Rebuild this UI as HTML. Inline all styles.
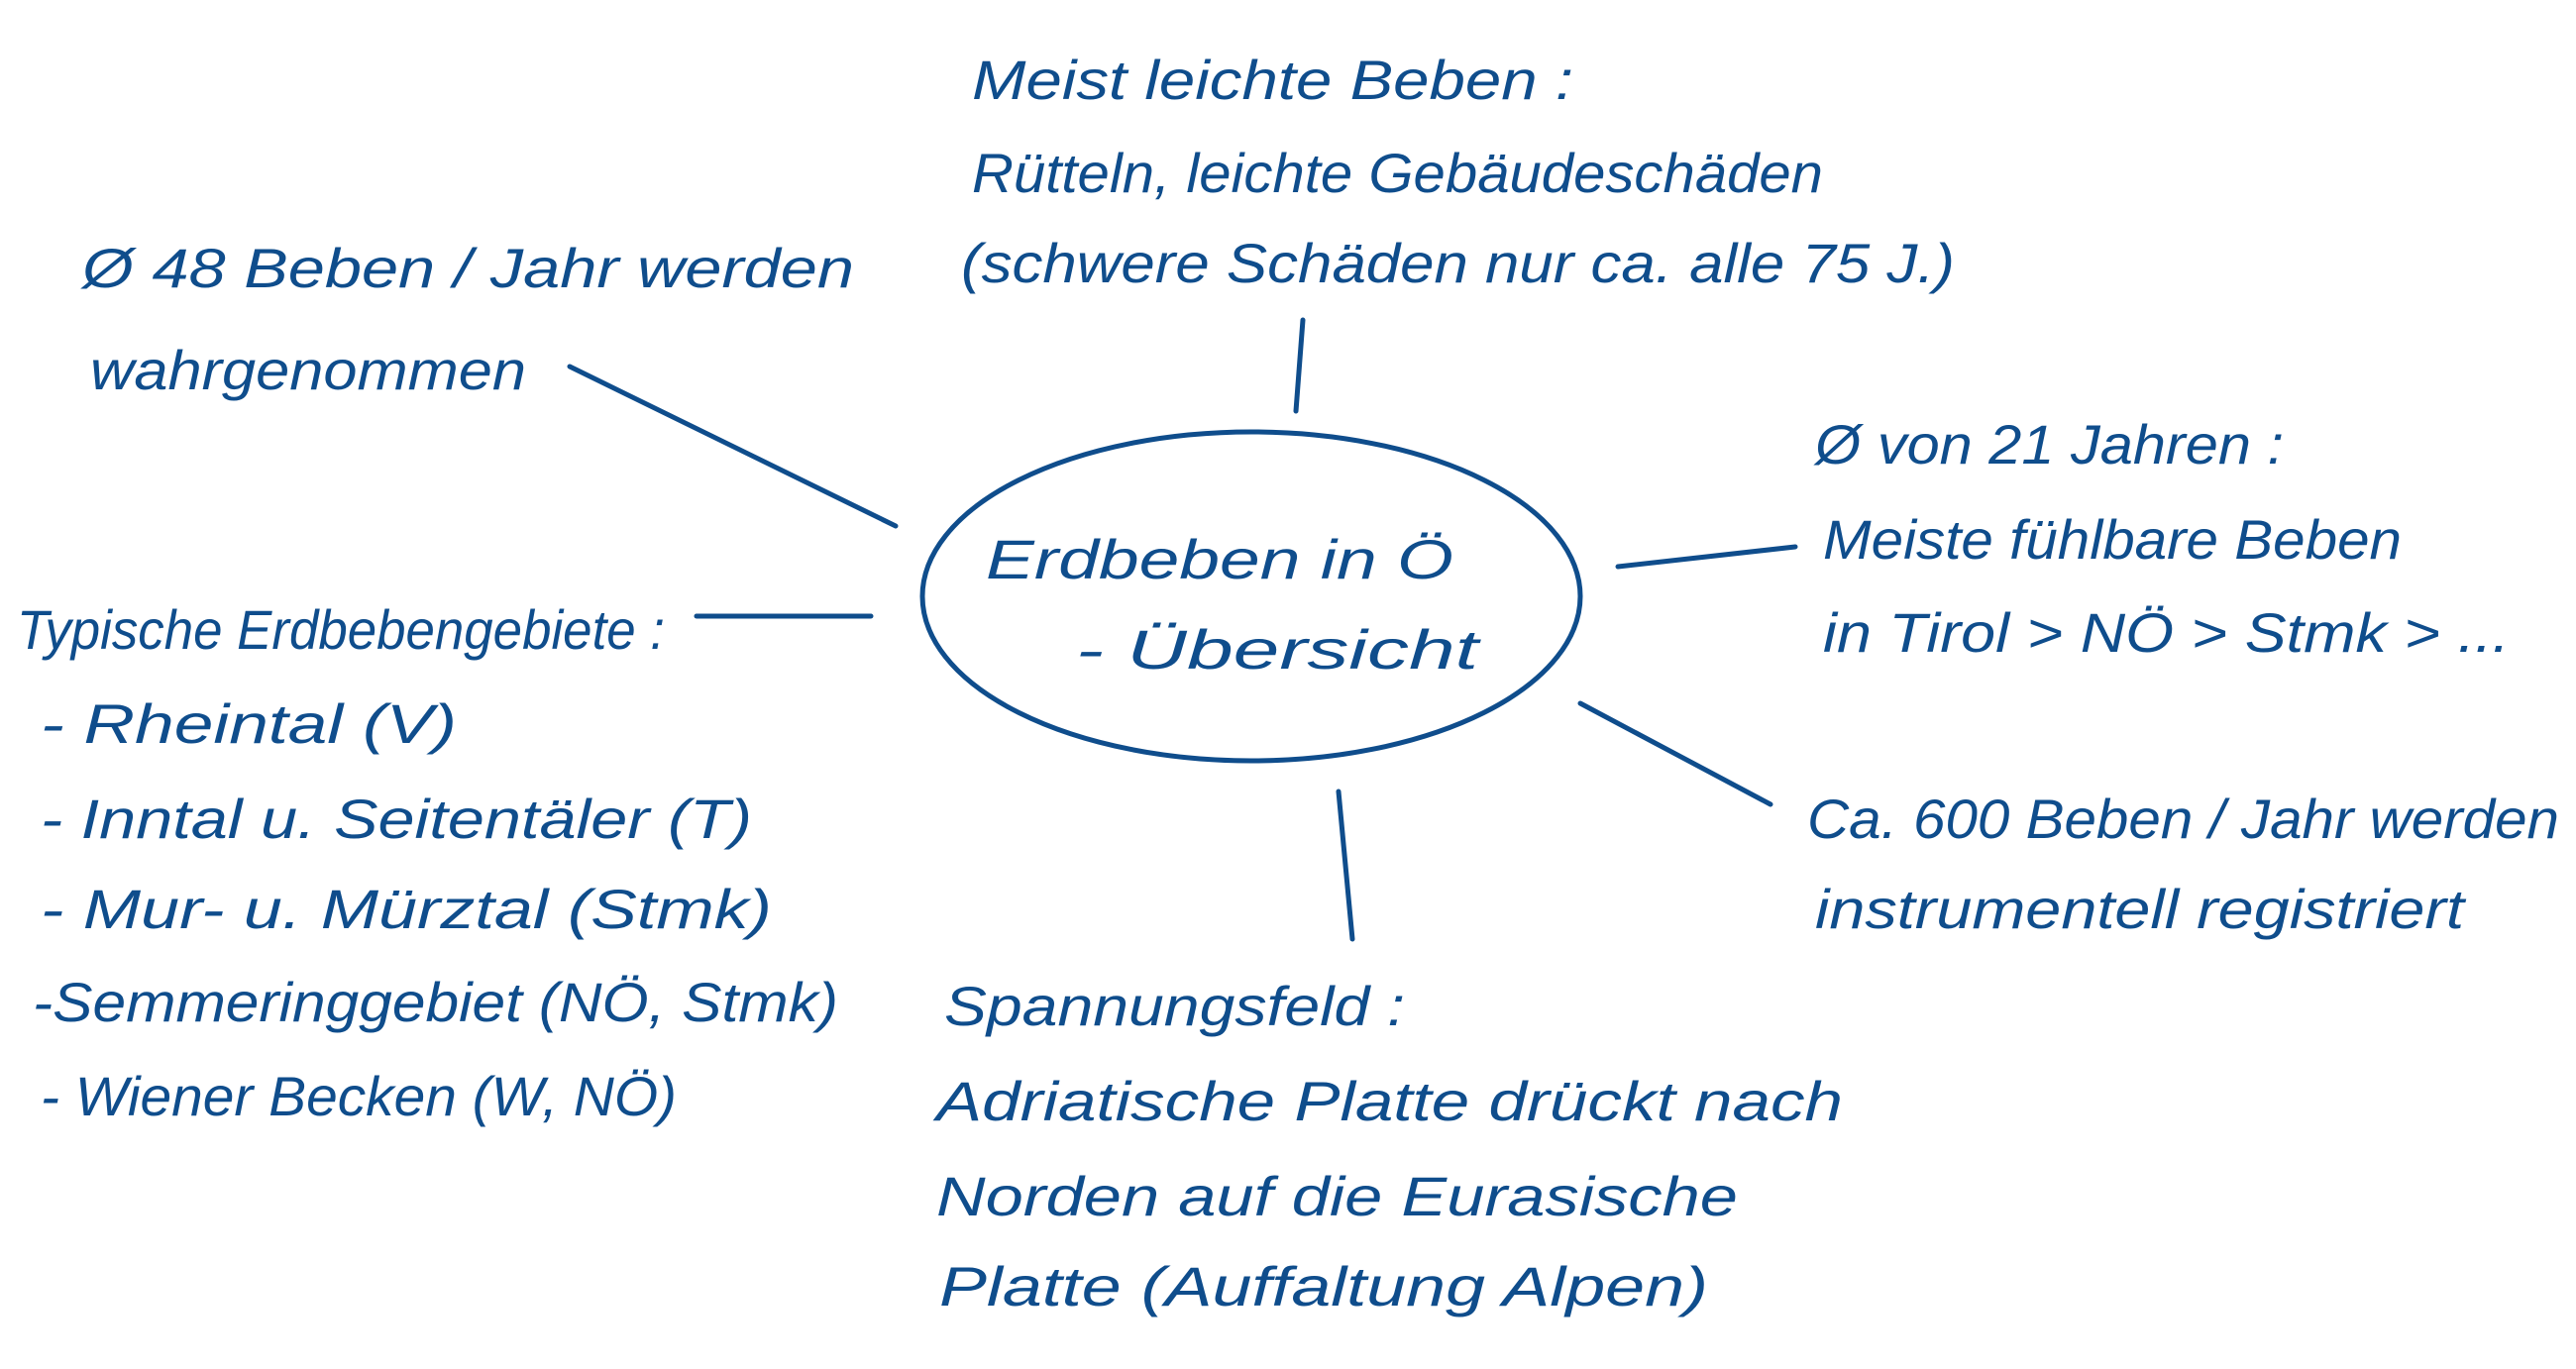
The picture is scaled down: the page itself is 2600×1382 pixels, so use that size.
<!DOCTYPE html>
<html><head><meta charset="utf-8"><style>
html,body{margin:0;padding:0;background:#fff;}
svg{display:block}
text{font-family:"Liberation Sans",sans-serif;font-style:italic;font-size:56px;fill:#0f4d8c;}
</style></head><body>
<svg width="2600" height="1382" viewBox="0 0 2600 1382" xmlns="http://www.w3.org/2000/svg">
<g stroke="#0f4d8c" stroke-width="5" fill="none" stroke-linecap="round">
<ellipse cx="1263" cy="602" rx="332" ry="166"/>
<line x1="575" y1="370" x2="904" y2="531"/>
<line x1="1315" y1="323" x2="1308" y2="415"/>
<line x1="1633" y1="572" x2="1812" y2="552"/>
<line x1="1595" y1="710" x2="1787" y2="812"/>
<line x1="1351" y1="799" x2="1365" y2="948"/>
<line x1="703" y1="622" x2="879" y2="622"/>
</g>
<g lengthAdjust="spacingAndGlyphs">
<text x="981" y="100" textLength="607" lengthAdjust="spacingAndGlyphs">Meist leichte Beben :</text>
<text x="981" y="194" textLength="859" lengthAdjust="spacingAndGlyphs">Rütteln, leichte Gebäudeschäden</text>
<text x="970" y="285" textLength="1003" lengthAdjust="spacingAndGlyphs">(schwere Schäden nur ca. alle 75 J.)</text>
<text x="83" y="290" textLength="779" lengthAdjust="spacingAndGlyphs">Ø 48 Beben / Jahr werden</text>
<text x="91" y="393" textLength="440" lengthAdjust="spacingAndGlyphs">wahrgenommen</text>
<text x="1832" y="468" textLength="473" lengthAdjust="spacingAndGlyphs">Ø von 21 Jahren :</text>
<text x="1840" y="564" textLength="584" lengthAdjust="spacingAndGlyphs">Meiste fühlbare Beben</text>
<text x="1840" y="658" textLength="693" lengthAdjust="spacingAndGlyphs">in Tirol &gt; NÖ &gt; Stmk &gt; ...</text>
<text x="1824" y="846" textLength="759" lengthAdjust="spacingAndGlyphs">Ca. 600 Beben / Jahr werden</text>
<text x="1832" y="937" textLength="655" lengthAdjust="spacingAndGlyphs">instrumentell registriert</text>
<text x="17" y="655" textLength="654" lengthAdjust="spacingAndGlyphs">Typische Erdbebengebiete :</text>
<text x="41" y="750" textLength="420" lengthAdjust="spacingAndGlyphs">- Rheintal (V)</text>
<text x="41" y="846" textLength="718" lengthAdjust="spacingAndGlyphs">- Inntal u. Seitentäler (T)</text>
<text x="41" y="937" textLength="738" lengthAdjust="spacingAndGlyphs">- Mur- u. Mürztal (Stmk)</text>
<text x="33" y="1031" textLength="813" lengthAdjust="spacingAndGlyphs">-Semmeringgebiet (NÖ, Stmk)</text>
<text x="41" y="1126" textLength="642" lengthAdjust="spacingAndGlyphs">- Wiener Becken (W, NÖ)</text>
<text x="953" y="1035" textLength="465" lengthAdjust="spacingAndGlyphs">Spannungsfeld :</text>
<text x="945" y="1131" textLength="915" lengthAdjust="spacingAndGlyphs">Adriatische Platte drückt nach</text>
<text x="945" y="1227" textLength="809" lengthAdjust="spacingAndGlyphs">Norden auf die Eurasische</text>
<text x="948" y="1318" textLength="776" lengthAdjust="spacingAndGlyphs">Platte (Auffaltung Alpen)</text>
<text x="995" y="584" textLength="472" lengthAdjust="spacingAndGlyphs">Erdbeben in Ö</text>
<text x="1086" y="675" textLength="406" lengthAdjust="spacingAndGlyphs">- Übersicht</text>
</g>
</svg>
</body></html>
